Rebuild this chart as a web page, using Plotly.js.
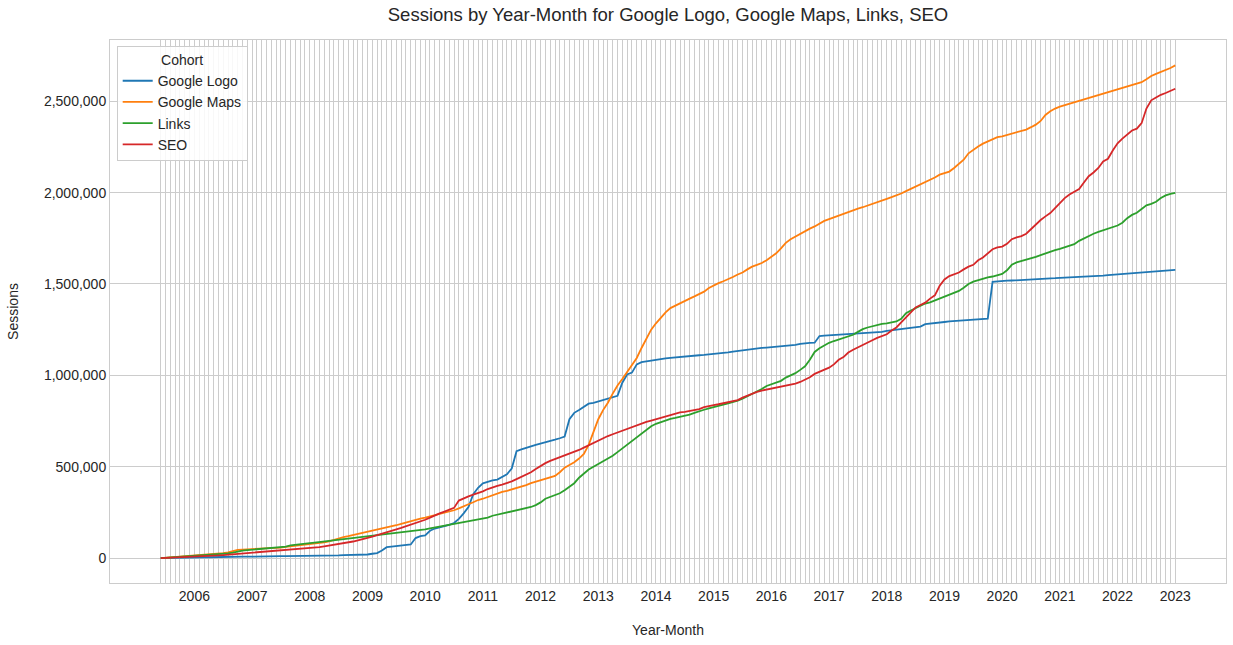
<!DOCTYPE html>
<html>
<head>
<meta charset="utf-8">
<script src="https://cdn.plot.ly/plotly-3.0.1.min.js"></script>
<style>
  html, body { margin: 0; padding: 0; background: #ffffff; }
  #chart { width: 1233px; height: 645px; }
</style>
</head>
<body>
<div id="chart"></div>
<script>
// Month categories: 2005-06 .. 2023-01
const START_YEAR = 2005, START_MONTH = 6, END_YEAR = 2023, END_MONTH = 1;
const yearTickLabels = ["2006","2007","2008","2009","2010","2011","2012","2013","2014","2015","2016","2017","2018","2019","2020","2021","2022","2023"];
const seriesNames = ["Google Logo", "Google Maps", "Links", "SEO"];
const seriesColors = ["#1f77b4", "#ff7f0e", "#2ca02c", "#d62728"];

// Cumulative sessions, in thousands (one row per calendar year)
const googleLogo = [
  0,1,1,2,2,3,3,
  4,4,5,5,6,6,7,7,7,8,8,8,
  9,9,9,10,10,10,11,11,11,12,12,12,
  13,13,14,14,14,15,15,16,16,17,18,19,
  20,24,28,42,60,63,66,68,70,75,110,120,
  125,150,162,168,175,182,192,215,245,280,350,385,
  409,418,425,430,445,459,490,585,595,605,612,620,
  626,632,640,648,656,665,760,795,810,830,845,850,
  858,864,872,880,888,960,1005,1015,1060,1072,1077,1081,
  1085,1089,1093,1096,1099,1102,1104,1106,1108,1110,1112,1114,
  1116,1118,1122,1126,1130,1134,1138,1141,1144,1147,1150,1152,
  1154,1156,1158,1160,1163,1167,1172,1176,1178,1179,1215,1218,
  1220,1221,1222,1223,1224,1226,1228,1230,1232,1234,1236,1238,
  1244,1247,1250,1255,1258,1261,1264,1267,1280,1284,1287,1290,
  1292,1295,1297,1299,1301,1303,1305,1307,1309,1311,1512,1515,
  1517,1518,1519,1520,1521,1522,1523,1524,1526,1528,1530,1532,
  1534,1535,1536,1537,1538,1539,1540,1542,1544,1546,1548,1550,
  1552,1554,1556,1558,1560,1562,1564,1566,1568,1570,1572,1574,
  1577
];
const googleMaps = [
  0,2,4,6,8,10,12,
  14,16,18,20,22,25,28,32,40,45,47,48,
  50,51,52,53,54,56,58,62,65,67,69,71,
  74,78,82,86,92,100,110,115,120,126,132,137,
  142,148,155,162,168,175,180,188,196,204,210,216,
  222,228,236,244,250,256,262,272,285,295,306,318,
  325,335,345,355,362,368,375,385,392,400,410,418,
  425,432,440,450,470,495,510,525,545,570,620,690,
  760,810,850,900,945,980,1020,1060,1095,1150,1200,1250,
  1285,1315,1345,1368,1382,1395,1408,1420,1432,1443,1458,1478,
  1492,1505,1515,1525,1538,1552,1563,1580,1595,1605,1615,1630,
  1650,1668,1695,1725,1745,1760,1775,1790,1803,1815,1830,1845,
  1855,1865,1875,1885,1895,1903,1912,1920,1930,1940,1948,1957,
  1966,1975,1983,1995,2008,2020,2032,2045,2058,2070,2083,2098,
  2105,2115,2135,2160,2180,2215,2235,2252,2268,2280,2292,2303,
  2308,2315,2322,2328,2335,2345,2358,2372,2392,2425,2445,2460,
  2470,2478,2487,2495,2502,2510,2518,2525,2532,2540,2547,2555,
  2563,2572,2580,2588,2595,2604,2620,2638,2650,2660,2670,2682,
  2696
];
const links = [
  0,2,3,5,6,8,10,
  12,13,15,16,18,20,22,26,30,37,41,44,
  46,48,50,51,53,55,58,63,70,74,77,80,
  82,85,88,91,94,97,100,103,106,110,114,119,
  122,125,128,131,134,137,139,141,144,147,150,154,
  158,163,168,172,177,181,186,192,197,201,205,209,
  214,222,232,238,242,247,252,260,266,272,280,290,
  305,325,335,343,355,372,390,410,440,465,485,500,
  515,530,545,560,580,600,618,642,662,683,703,722,
  735,745,755,762,767,772,777,785,795,805,812,820,
  828,835,840,847,853,862,872,885,897,908,925,942,
  952,958,970,988,1000,1012,1030,1050,1085,1128,1148,1165,
  1178,1188,1196,1203,1210,1222,1238,1253,1262,1270,1277,1282,
  1285,1288,1295,1310,1340,1355,1368,1380,1393,1400,1410,1422,
  1430,1440,1450,1462,1480,1500,1513,1522,1530,1536,1541,1546,
  1555,1575,1605,1618,1625,1632,1640,1648,1658,1668,1677,1685,
  1692,1700,1710,1718,1736,1750,1762,1775,1785,1793,1800,1808,
  1820,1835,1860,1878,1890,1910,1930,1938,1950,1970,1985,1993,
  1998
];
const seo = [
  0,1,2,3,5,6,8,
  9,10,11,12,13,15,17,19,21,23,26,28,
  30,32,34,36,38,40,42,44,46,48,50,52,
  54,57,60,64,68,72,76,80,86,91,97,103,
  110,118,126,135,143,151,158,166,174,182,190,198,
  210,222,235,245,255,265,275,315,328,338,348,355,
  365,378,388,395,402,410,420,432,445,458,470,488,
  505,520,532,542,552,562,572,580,592,605,618,630,
  645,658,668,678,688,698,708,718,728,738,745,752,
  760,768,776,784,792,797,800,804,808,815,826,833,
  837,842,848,852,856,865,878,890,900,910,917,922,
  928,932,936,942,948,955,964,975,990,1008,1018,1030,
  1042,1060,1085,1100,1125,1140,1152,1165,1178,1192,1205,1215,
  1225,1245,1262,1290,1318,1345,1372,1385,1398,1420,1438,1490,
  1525,1543,1555,1563,1580,1595,1605,1630,1645,1665,1690,1700,
  1705,1720,1745,1755,1762,1775,1800,1830,1850,1870,1888,1915,
  1945,1970,1990,2005,2020,2055,2090,2110,2135,2170,2185,2230,
  2270,2295,2320,2340,2350,2380,2460,2505,2520,2535,2545,2555,
  2568
];

// Build month category labels
const months = [];
for (let y = START_YEAR, m = START_MONTH; y < END_YEAR || (y === END_YEAR && m <= END_MONTH); ) {
  months.push(y + "-" + String(m).padStart(2, "0"));
  m++; if (m > 12) { m = 1; y++; }
}
const tickText = months.map(s => s.endsWith("-01") ? s.slice(0, 4) : "");

const allSeries = [googleLogo, googleMaps, links, seo];
const traces = allSeries.map((vals, k) => ({
  type: "scatter",
  mode: "lines",
  name: seriesNames[k],
  x: months,
  y: vals.map(v => v * 1000),
  line: { color: seriesColors[k], width: 1.8 },
  hovertemplate: "%{x}: %{y:,}<extra>" + seriesNames[k] + "</extra>"
}));

const font = "'Liberation Sans', Arial, 'DejaVu Sans', sans-serif";
const layout = {
  width: 1233, height: 645,
  paper_bgcolor: "#ffffff",
  plot_bgcolor: "#ffffff",
  margin: { l: 110, r: 7, t: 40, b: 62 },
  font: { family: font, size: 14, color: "#262626" },
  title: {
    text: "Sessions by Year-Month for Google Logo, Google Maps, Links, SEO",
    font: { family: font, size: 18.5, color: "#262626" },
    x: 0.5, xref: "paper", xanchor: "center",
    y: 0.978, yref: "container", yanchor: "middle"
  },
  xaxis: {
    type: "category",
    range: [-10.55, 221.55],
    tickmode: "array",
    tickvals: months,
    ticktext: tickText,
    tickangle: 0,
    showgrid: true, gridcolor: "#cccccc", gridwidth: 1,
    showline: true, linecolor: "#cccccc", linewidth: 1, mirror: true,
    ticks: "", zeroline: false,
    tickfont: { family: font, size: 14, color: "#262626" },
    title: { text: "Year-Month", font: { family: font, size: 14, color: "#262626" }, standoff: 22 },
    automargin: false
  },
  yaxis: {
    range: [-136000, 2835000],
    tickmode: "array",
    tickvals: [0, 500000, 1000000, 1500000, 2000000, 2500000],
    tickformat: ",",
    showgrid: true, gridcolor: "#cccccc", gridwidth: 1,
    showline: true, linecolor: "#cccccc", linewidth: 1, mirror: true,
    ticks: "", zeroline: false,
    tickfont: { family: font, size: 14, color: "#262626" },
    title: { text: "Sessions", font: { family: font, size: 14, color: "#262626" }, standoff: 22 },
    automargin: false
  },
  showlegend: true,
  legend: {
    x: 0.006, y: 0.989, xanchor: "left", yanchor: "top",
    bgcolor: "rgba(255,255,255,0.85)",
    bordercolor: "#cccccc", borderwidth: 1,
    font: { family: font, size: 14, color: "#262626" },
    title: { text: "Cohort", side: "top center", font: { family: font, size: 14, color: "#262626" } },
    tracegroupgap: 0
  },
  hovermode: "closest"
};

Plotly.newPlot("chart", traces, layout, { displayModeBar: false, responsive: false });
</script>
</body>
</html>
